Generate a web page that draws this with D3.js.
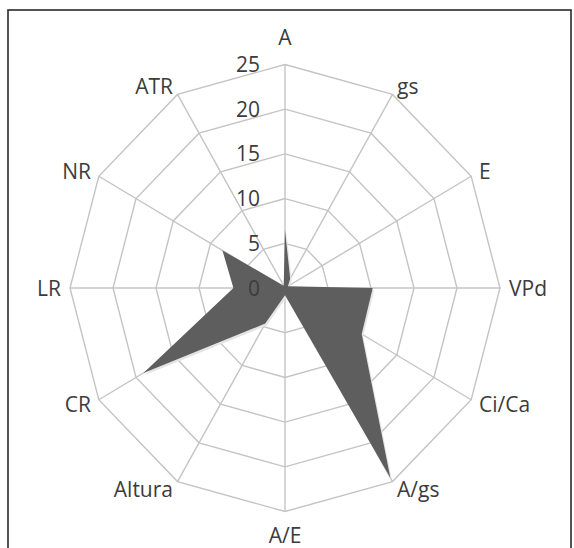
<!DOCTYPE html>
<html>
<head>
<meta charset="utf-8">
<script src="https://cdn.jsdelivr.net/npm/d3@7"></script>
<style>
  body { margin: 0; background: #fff; }
  text { font-family: "Open Sans", sans-serif; fill: #3c3c3c; }
</style>
</head>
<body>
<svg id="chart" width="574" height="548" viewBox="0 0 574 548"></svg>
<script>
// axes go clockwise from the top
const axes = ["A", "gs", "E", "VPd", "Ci/Ca", "A/gs", "A/E", "Altura", "CR", "LR", "NR", "ATR"]
const values = [6.5, 1.2, 0.4, 10.2, 10.3, 24.5, 0.8, 4.6, 19, 6.0, 8.4, 0.3]
const ticks = [0, 5, 10, 15, 20, 25]

const svg = d3.select("#chart")
const cx = 285, cy = 288
const kx = 215 / 223.5   // the picture is a bit narrower than tall

const r = d3.scaleLinear().domain([0, 25]).range([0, 223.5])
const angle = d3.scaleLinear().domain([0, axes.length]).range([0, 2 * Math.PI])

function pt(v, i) {
    const a = angle(i)
    return [cx + r(v) * Math.sin(a) * kx, cy - r(v) * Math.cos(a)]
}

// frame
svg.append("rect")
    .attr("x", 8).attr("y", 10)
    .attr("width", 563).attr("height", 560)
    .attr("fill", "none")
    .attr("stroke", "#2a2a2a")
    .attr("stroke-width", 1.6)

const grid = svg.append("g")

// rings
grid.selectAll(".ring")
    .data(ticks.filter(t => t > 0))
    .enter()
    .append("polygon")
    .attr("points", t => axes.map((d, i) => pt(t, i).join(",")).join(" "))
    .attr("fill", "none")
    .attr("stroke", "#c4c4c4")
    .attr("stroke-width", 1.4)

// spokes
grid.selectAll(".spoke")
    .data(axes)
    .enter()
    .append("line")
    .attr("x1", cx).attr("y1", cy)
    .attr("x2", (d, i) => pt(25, i)[0])
    .attr("y2", (d, i) => pt(25, i)[1])
    .attr("stroke", "#c4c4c4")
    .attr("stroke-width", 1.4)

// shadow + series
const line = d3.line().curve(d3.curveLinearClosed)
const series = values.map((v, i) => pt(v, i))

svg.append("path")
    .attr("d", line(series))
    .attr("transform", "translate(1.5,2)")
    .attr("fill", "#e4e4e4")

svg.append("path")
    .attr("d", line(series))
    .attr("fill", "#5e5e5e")

// tick labels
svg.selectAll(".tick")
    .data(ticks)
    .enter()
    .append("text")
    .attr("x", cx - 25)
    .attr("y", t => cy - r(t))
    .attr("dy", "0.36em")
    .attr("text-anchor", "end")
    .style("font-size", "21px")
    .text(d => d)

// axis labels
svg.selectAll(".lab")
    .data(axes)
    .enter()
    .append("text")
    .attr("x", (d, i) => {
        const p = pt(25, i), s = Math.sin(angle(i))
        if (Math.abs(s) < 0.01) return p[0]
        return p[0] + 9 * s
    })
    .attr("y", (d, i) => {
        const p = pt(25, i), c = Math.cos(angle(i))
        if (Math.abs(Math.sin(angle(i))) < 0.01) return c > 0 ? p[1] - 27 : p[1] + 24
        return p[1] - 9 * c
    })
    .attr("dy", "0.36em")
    .attr("text-anchor", (d, i) => {
        const s = Math.sin(angle(i))
        if (Math.abs(s) < 0.01) return "middle"
        return s > 0 ? "start" : "end"
    })
    .style("font-size", "21px")
    .text(d => d)
</script>
</body>
</html>
